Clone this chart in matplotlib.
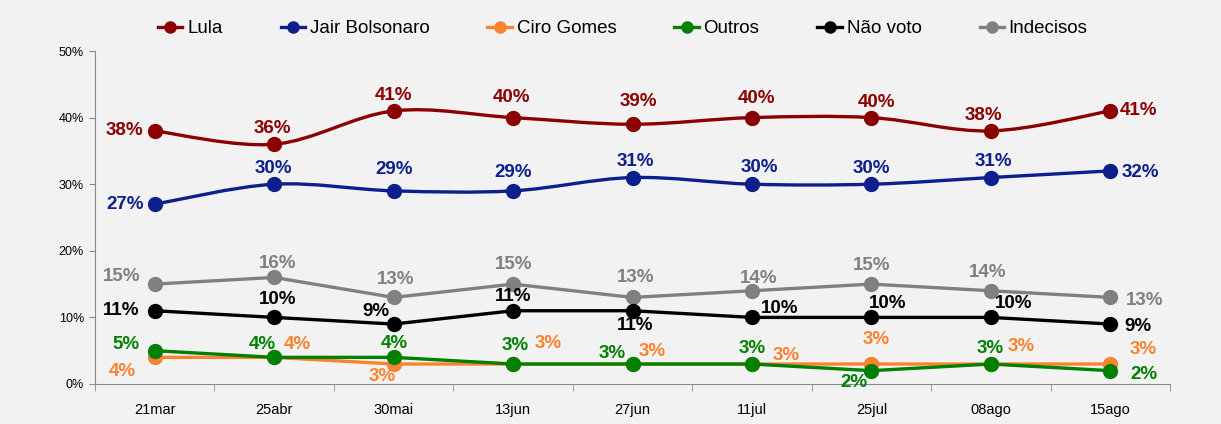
import matplotlib.pyplot as plt
from matplotlib.path import Path
from matplotlib.patches import PathPatch
from matplotlib.lines import Line2D
import numpy as np

dates = ["21mar", "25abr", "30mai", "13jun", "27jun", "11jul", "25jul", "08ago", "15ago"]
lula = [38, 36, 41, 40, 39, 40, 40, 38, 41]
bolsonaro = [27, 30, 29, 29, 31, 30, 30, 31, 32]
ciro = [4, 4, 3, 3, 3, 3, 3, 3, 3]
outros = [5, 4, 4, 3, 3, 3, 2, 3, 2]
nao_voto = [11, 10, 9, 11, 11, 10, 10, 10, 9]
indecisos = [15, 16, 13, 15, 13, 14, 15, 14, 13]

names = ["Lula", "Jair Bolsonaro", "Ciro Gomes", "Outros", "Não voto", "Indecisos"]
colors = ["#8b0000", "#0d1f8c", "#fb8230", "#008000", "#000000", "#808080"]

# label offsets in pixels (dx, dy) per point
off_lula = [(-30, 0), (-2, 16), (0, 15), (-2, 20), (6, 23), (5, 19), (5, 15), (-7, 15), (28, 0)]
off_bols = [(-30, 0), (-1, 16), (1, 21), (0, 18), (3, 16), (7, 17), (0, 16), (3, 16), (30, -2)]
off_ciro = [(-32, -14), (23, 13), (-11, -12), (35, 21), (20, 13), (34, 9), (5, 25), (30, 18), (33, 15)]
off_outros = [(-29, 6), (-12, 13), (1, 14), (2, 19), (-20, 11), (0, 16), (-17, -12), (-1, 16), (34, -4)]
off_nao = [(-34, 0), (3, 18), (-18, 13), (0, 14), (3, -15), (28, 9), (16, 14), (23, 14), (28, -2)]
off_ind = [(-33, 8), (3, 14), (2, 18), (1, 20), (3, 20), (7, 12), (0, 19), (-3, 18), (34, -3)]

series = [lula, bolsonaro, ciro, outros, nao_voto, indecisos]
offsets = [off_lula, off_bols, off_ciro, off_outros, off_nao, off_ind]
smooth = [True, True, False, False, False, False]

plt.rcParams['font.family'] = ["Liberation Sans", "DejaVu Sans"]

fig = plt.figure(figsize=(12.21, 4.24), dpi=100, facecolor="#f2f2f2")
ax = fig.add_axes([95 / 1221, 40 / 424, 1075 / 1221, 333 / 424])
ax.set_facecolor("#f2f2f2")

x = np.arange(len(dates))


def smooth_path(xs, ys):
    pts = np.column_stack([xs, ys]).astype(float)
    n = len(pts)
    verts = [pts[0]]
    codes = [Path.MOVETO]
    for i in range(n - 1):
        p0 = pts[i - 1] if i > 0 else pts[i]
        p1 = pts[i]
        p2 = pts[i + 1]
        p3 = pts[i + 2] if i + 2 < n else pts[i + 1]
        c1 = p1 + (p2 - p0) / 6
        c2 = p2 - (p3 - p1) / 6
        verts += [c1, c2, p2]
        codes += [Path.CURVE4] * 3
    return Path(verts, codes)


zo = [8, 7, 4, 5, 6, 3]
for s, name, c, offs, sm, z in zip(series, names, colors, offsets, smooth, zo):
    if sm:
        ax.add_patch(PathPatch(smooth_path(x, s), facecolor="none", edgecolor=c, lw=2.4, zorder=z))
        ax.plot(x, s, "o", color=c, ms=10, zorder=z)
    else:
        ax.plot(x, s, "-o", color=c, lw=2.4, ms=10, zorder=z)
    for xi, yi, (dx, dy) in zip(x, s, offs):
        ax.annotate(f"{yi}%", (xi, yi), xytext=(dx, dy), textcoords="offset pixels",
                    ha="center", va="center", color=c, fontsize=13.5,
                    fontweight="bold", zorder=10)

ax.set_xlim(-0.5, len(dates) - 0.5)
ax.set_ylim(0, 50)
ax.set_yticks(range(0, 51, 10))
ax.set_yticklabels([f"{v}%" for v in range(0, 51, 10)], fontsize=9)
ax.set_xticks(x)
ax.set_xticklabels(dates, fontsize=10.5)
ax.set_xticks(np.arange(-0.5, len(dates)), minor=True)
ax.tick_params(axis="x", which="major", length=0, pad=14)
ax.tick_params(axis="x", which="minor", length=5, color="#888888", direction="out")
ax.tick_params(axis="y", length=4, color="#888888", pad=4)
for sp in ["top", "right"]:
    ax.spines[sp].set_visible(False)
ax.spines["left"].set_color("#888888")
ax.spines["bottom"].set_color("#888888")

handles = [Line2D([], [], color=c, lw=2.4, marker="o", ms=8) for c in colors]
fig.legend(handles, names, loc="center", bbox_to_anchor=(0.51, 0.932), ncol=6,
           frameon=False, fontsize=13.5, handlelength=1.3, handletextpad=0.25,
           columnspacing=3.1)

plt.savefig("out.png", dpi=100, facecolor=fig.get_facecolor())
